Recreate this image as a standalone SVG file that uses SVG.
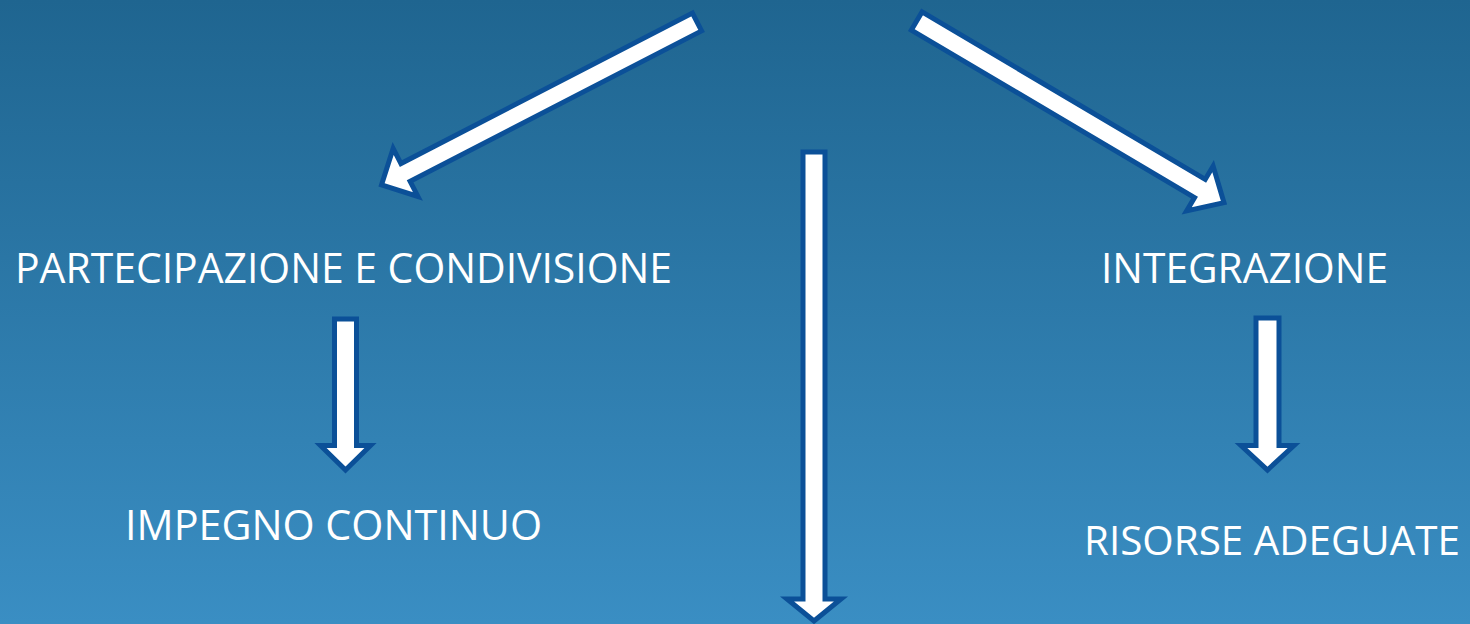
<svg xmlns="http://www.w3.org/2000/svg" width="1470" height="624" viewBox="0 0 1470 624">
  <defs>
    <linearGradient id="bg" x1="0" y1="0" x2="0" y2="1">
      <stop offset="0" stop-color="#1f6590"/>
      <stop offset="1" stop-color="#3a8ec3"/>
    </linearGradient>
    <style>
      .arrow { fill: #ffffff; stroke: #0b5098; stroke-width: 5; stroke-linejoin: miter; }
      .label { font-family: "Open Sans", "Liberation Sans", sans-serif; font-size: 42px; fill: #ffffff; }
    </style>
  </defs>
  <rect x="0" y="0" width="1470" height="624" fill="url(#bg)"/>

  <g id="connectors">
    <polygon class="arrow" transform="translate(697,22) rotate(152.7)" points="0,-10 328,-10 328,-27 355,0 328,27 328,10 0,10"/>
    <polygon class="arrow" transform="translate(916.7,21) rotate(30.6)" points="0,-10.5 329,-10.5 329,-26 357,0 329,26 329,10.5 0,10.5"/>
    <polygon class="arrow" points="803,152 825,152 825,599 841,599 814,621 787,599 803,599"/>
    <polygon class="arrow" points="334.5,319 356.5,319 356.5,445.5 370.5,445.5 345.5,470 320.5,445.5 334.5,445.5"/>
    <polygon class="arrow" points="1256,318 1279,318 1279,445.5 1294,445.5 1267.5,470 1241,445.5 1256,445.5"/>
  </g>

  <g id="node-partecipazione">
    <text class="label" x="15" y="283" textLength="657" lengthAdjust="spacingAndGlyphs">PARTECIPAZIONE E CONDIVISIONE</text>
  </g>
  <g id="node-integrazione">
    <text class="label" x="1101" y="283" textLength="287" lengthAdjust="spacingAndGlyphs">INTEGRAZIONE</text>
  </g>
  <g id="node-impegno">
    <text class="label" x="125" y="540" textLength="417" lengthAdjust="spacingAndGlyphs">IMPEGNO CONTINUO</text>
  </g>
  <g id="node-risorse">
    <text class="label" x="1084" y="555" font-size="41" style="font-size:41px" textLength="376" lengthAdjust="spacingAndGlyphs">RISORSE ADEGUATE</text>
  </g>
</svg>
